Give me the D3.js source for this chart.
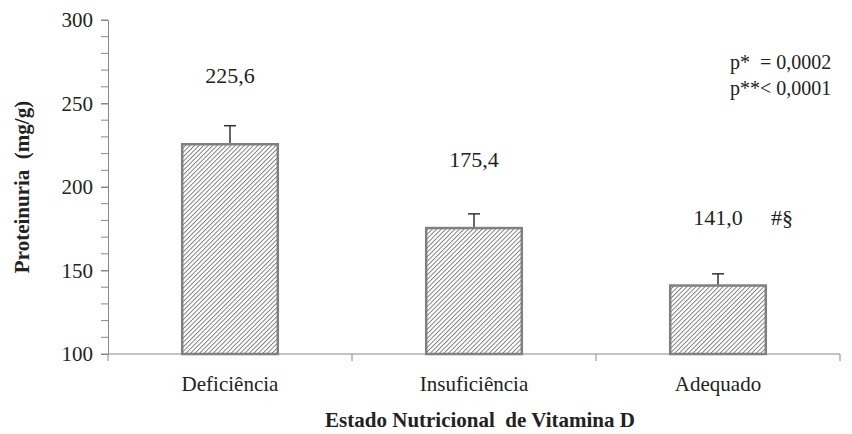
<!DOCTYPE html>
<html>
<head>
<meta charset="utf-8">
<script src="https://cdn.jsdelivr.net/npm/d3@7"></script>
<style>
body { margin: 0; background: #fff; }
svg text { fill: #222; }
</style>
</head>
<body>
<svg width="852" height="434"></svg>
<script>
var categories = ["Deficiência", "Insuficiência", "Adequado"];
var means = [225.6, 175.4, 141.0];
var errors = [11.1, 8.5, 7.0];
var valueLabels = ["225,6", "175,4", "141,0"];
var yTicks = [100, 150, 200, 250, 300];

var margin = {left: 108, right: 12, top: 20, bottom: 80};
var svgWidth = 852, svgHeight = 434;
var serif = "'Liberation Serif', 'Times New Roman', Times, Tinos, 'Noto Serif', 'DejaVu Serif', 'Nimbus Roman', serif";

var svg = d3.select("svg");

var x = d3.scaleBand()
    .domain(categories)
    .range([margin.left, svgWidth - margin.right])
    .paddingInner(0.6)
    .paddingOuter(0.3);

var y = d3.scaleLinear()
    .domain([100, 300])
    .range([svgHeight - margin.bottom, margin.top]);

// hatch pattern
var defs = svg.append("defs");
var pat = defs.append("pattern")
    .attr("id", "hatch")
    .attr("patternUnits", "userSpaceOnUse")
    .attr("width", 3.2).attr("height", 3.2)
    .attr("patternTransform", "rotate(45)");
pat.append("rect").attr("width", 3.2).attr("height", 3.2).attr("fill", "#fff");
pat.append("line")
    .attr("x1", 0).attr("y1", 0).attr("x2", 0).attr("y2", 3.2)
    .attr("stroke", "#777").attr("stroke-width", 1.8);

// y axis
var yAxis = svg.append("g")
    .attr("transform", "translate(" + margin.left + ",0)")
    .call(d3.axisLeft(y).tickValues(yTicks).tickSize(7).tickPadding(8));
yAxis.attr("font-family", null);
yAxis.select(".domain").attr("stroke", "#888");
yAxis.selectAll(".tick line").attr("stroke", "#888");
yAxis.selectAll("text").style("font-size", "21px");

// minor ticks
svg.append("g").selectAll("line")
    .data(d3.range(100, 301, 10))
    .enter()
    .append("line")
    .attr("x1", margin.left - 7).attr("x2", margin.left)
    .attr("y1", function(d) { return y(d); })
    .attr("y2", function(d) { return y(d); })
    .attr("stroke", "#888");

// x axis
var step = (svgWidth - margin.right - margin.left) / categories.length;
var xAxis = svg.append("g")
    .attr("transform", "translate(0," + y(100) + ")");
xAxis.append("line")
    .attr("x1", margin.left).attr("x2", svgWidth - margin.right)
    .attr("stroke", "#888");
xAxis.selectAll(".xt")
    .data(d3.range(categories.length + 1))
    .enter()
    .append("line")
    .attr("x1", function(d) { return margin.left + d * step; })
    .attr("x2", function(d) { return margin.left + d * step; })
    .attr("y1", 0).attr("y2", 7)
    .attr("stroke", "#888");
xAxis.selectAll(".xl")
    .data(categories)
    .enter()
    .append("text")
    .attr("x", function(d) { return x(d) + x.bandwidth() / 2; })
    .attr("y", 37)
    .attr("text-anchor", "middle")
    .style("font-size", "21px")
    .text(function(d) { return d; });

// error bars (upper only)
var err = svg.append("g");
categories.forEach(function(c, i) {
    var cx = x(c) + x.bandwidth() / 2;
    err.append("line")
        .attr("x1", cx).attr("x2", cx)
        .attr("y1", y(means[i])).attr("y2", y(means[i] + errors[i]))
        .attr("stroke", "#333").attr("stroke-width", 1.5);
    err.append("line")
        .attr("x1", cx - 6).attr("x2", cx + 6)
        .attr("y1", y(means[i] + errors[i])).attr("y2", y(means[i] + errors[i]))
        .attr("stroke", "#333").attr("stroke-width", 1.5);
});

// bars
svg.selectAll(".bar")
    .data(means)
    .enter()
    .append("rect")
    .attr("x", function(d, i) { return x(categories[i]) + 1; })
    .attr("y", function(d) { return y(d); })
    .attr("width", x.bandwidth() - 2)
    .attr("height", function(d) { return y(100) - y(d); })
    .attr("fill", "url(#hatch)")
    .attr("stroke", "#808080")
    .attr("stroke-width", 2.5);

// value labels
svg.selectAll(".vl")
    .data(valueLabels)
    .enter()
    .append("text")
    .attr("x", function(d, i) { return x(categories[i]) + x.bandwidth() / 2; })
    .attr("y", function(d, i) { return y(means[i]) - 61; })
    .attr("text-anchor", "middle")
    .style("font-size", "22px")
    .text(function(d) { return d; });

svg.append("text")
    .attr("x", x("Adequado") + x.bandwidth() / 2 + 64)
    .attr("y", y(means[2]) - 61)
    .attr("text-anchor", "middle")
    .style("font-size", "22px")
    .text("#§");

// p values
svg.append("text").attr("x", 730).attr("y", 69).style("font-size", "20px").attr("xml:space", "preserve").text("p*  = 0,0002");
svg.append("text").attr("x", 730).attr("y", 95).style("font-size", "20px").text("p**< 0,0001");

// axis titles
svg.append("text")
    .attr("transform", "translate(29," + ((y(100) + y(300)) / 2) + ") rotate(-90)")
    .attr("text-anchor", "middle")
    .attr("xml:space", "preserve")
    .style("font-size", "21px").style("font-weight", "bold")
    .text("Proteinuria  (mg/g)");

svg.append("text")
    .attr("x", 480).attr("y", 427)
    .attr("text-anchor", "middle")
    .attr("xml:space", "preserve")
    .style("font-size", "21px").style("font-weight", "bold")
    .text("Estado Nutricional  de Vitamina D");

svg.selectAll("text").style("font-family", serif);
</script>
</body>
</html>
